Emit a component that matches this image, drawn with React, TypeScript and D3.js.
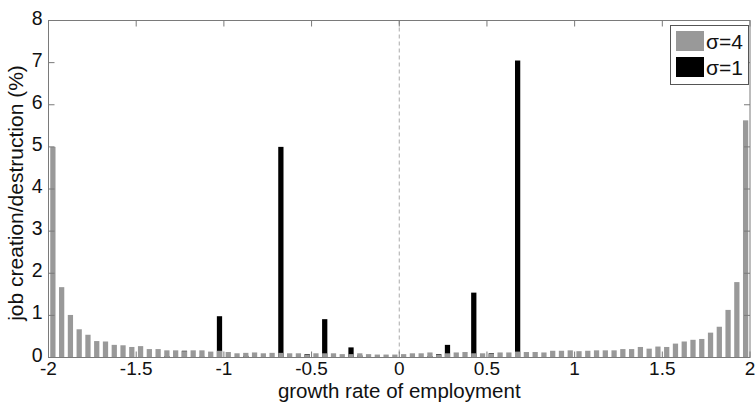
import React from 'react';
import * as d3 from 'd3';

// bin centres of the histogram (80 bins of width 0.05 on [-2, 2])
const binWidth = 0.05;
const binCenters = d3.range(80).map(i => -2 + binWidth / 2 + i * binWidth);

// sigma = 4 (gray bars)
const sigma4 = [
  5.00, 1.67, 1.01, 0.67, 0.54, 0.39, 0.38, 0.30, 0.29, 0.25,
  0.27, 0.20, 0.20, 0.17, 0.17, 0.15, 0.17, 0.17, 0.14, 0.16,
  0.13, 0.10, 0.11, 0.12, 0.10, 0.11, 0.11, 0.10, 0.10, 0.07,
  0.10, 0.10, 0.10, 0.08, 0.08, 0.10, 0.08, 0.07, 0.07, 0.07,
  0.08, 0.10, 0.10, 0.12, 0.07, 0.10, 0.12, 0.13, 0.10, 0.10,
  0.09, 0.12, 0.12, 0.14, 0.13, 0.13, 0.12, 0.16, 0.16, 0.17,
  0.15, 0.16, 0.17, 0.17, 0.17, 0.20, 0.20, 0.25, 0.21, 0.26,
  0.25, 0.33, 0.38, 0.42, 0.44, 0.59, 0.73, 1.13, 1.79, 5.63,
];

// sigma = 1 (black bars)
const sigma1 = [
  0, 0, 0, 0, 0, 0, 0, 0, 0, 0,
  0, 0, 0, 0.03, 0, 0.16, 0, 0.02, 0, 0.98,
  0, 0, 0.04, 0, 0, 0, 5.00, 0, 0, 0.08,
  0, 0.91, 0, 0, 0.24, 0.05, 0, 0, 0, 0,
  0, 0, 0, 0.03, 0.08, 0.30, 0, 0, 1.54, 0,
  0.10, 0, 0, 7.05, 0, 0, 0, 0, 0, 0,
  0, 0, 0, 0, 0, 0, 0, 0, 0, 0,
  0, 0, 0, 0, 0, 0, 0, 0, 0, 0,
];

const xTicks = [-2, -1.5, -1, -0.5, 0, 0.5, 1, 1.5, 2];
const yTicks = [0, 1, 2, 3, 4, 5, 6, 7, 8];
const legendLabels = ['σ=4', 'σ=1'];

const W = 756;
const H = 404;
const margin = { top: 20.5, right: 6, bottom: 46.5, left: 48.5 };
const font = '"Liberation Sans", Arial, Helvetica, sans-serif';

export default function App() {
  const x = d3.scaleLinear().domain([-2, 2]).range([margin.left, W - margin.right]);
  const y = d3.scaleLinear().domain([0, 8]).range([H - margin.bottom, margin.top]);
  const bw = (x(binWidth) - x(0)) * 0.6;
  const x0 = margin.left, x1 = W - margin.right, y0 = H - margin.bottom, y1 = margin.top;
  const axisColor = '#7a7a7a';
  const tickLen = 6;

  return (
    <svg width={W} height={H} style={{ position: 'absolute', left: 0, top: 0, background: '#fff' }}>
      <rect x={0} y={0} width={W} height={H} fill="#fff" />
      {/* black bars drawn first, gray drawn over them */}
      {sigma1.map((v, i) => v > 0 && (
        <rect key={'b' + i} x={x(binCenters[i]) - bw / 2} y={y(v)} width={bw} height={y(0) - y(v)} fill="#000" />
      ))}
      {sigma4.map((v, i) => (
        <rect key={'g' + i} x={x(binCenters[i]) - bw / 2} y={y(v)} width={bw} height={y(0) - y(v)} fill="#999999" />
      ))}
      {/* dashed zero line */}
      <line x1={x(0)} x2={x(0)} y1={y1} y2={y0} stroke="#aaa" strokeWidth={1} strokeDasharray="4,3" />
      {/* box */}
      <rect x={x0} y={y1} width={x1 - x0} height={y0 - y1} fill="none" stroke={axisColor} strokeWidth={1} />
      {xTicks.map(t => (
        <g key={'xt' + t}>
          <line x1={x(t)} x2={x(t)} y1={y0} y2={y0 - tickLen} stroke={axisColor} />
          <line x1={x(t)} x2={x(t)} y1={y1} y2={y1 + tickLen} stroke={axisColor} />
          <text x={x(t)} y={y0 + 17.5} textAnchor="middle" fontFamily={font} fontSize={19} fill="#111">{t}</text>
        </g>
      ))}
      {yTicks.map(t => (
        <g key={'yt' + t}>
          <line x1={x0} x2={x0 + tickLen} y1={y(t)} y2={y(t)} stroke={axisColor} />
          <line x1={x1} x2={x1 - tickLen} y1={y(t)} y2={y(t)} stroke={axisColor} />
          <text x={x0 - 6} y={y(t) + 4} textAnchor="end" fontFamily={font} fontSize={19.5} fill="#111">{t}</text>
        </g>
      ))}
      <text x={(x0 + x1) / 2} y={H - 6} textAnchor="middle" fontFamily={font} fontSize={20.5} fill="#111">
        growth rate of employment
      </text>
      <text transform={`translate(23,${(y0 + y1) / 2 + 4}) rotate(-90)`} textAnchor="middle" fontFamily={font} fontSize={21} fill="#111">
        job creation/destruction (%)
      </text>
      {/* legend */}
      <g>
        <rect x={670.5} y={25.5} width={78} height={59} fill="#fff" stroke="#555" />
        {legendLabels.map((l, i) => (
          <g key={l}>
            <rect x={676} y={31 + i * 26} width={28} height={20} fill={i === 0 ? '#999999' : '#000'} />
            <text x={706} y={49 + i * 26} fontFamily={font} fontSize={21} fill="#111">{l}</text>
          </g>
        ))}
      </g>
    </svg>
  );
}
